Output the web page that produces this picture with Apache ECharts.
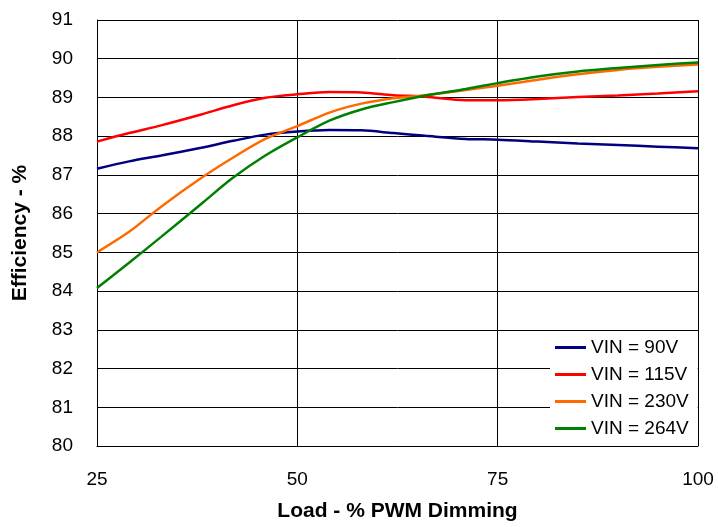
<!DOCTYPE html>
<html>
<head>
<meta charset="utf-8">
<script src="https://cdn.jsdelivr.net/npm/echarts@6/dist/echarts.min.js"></script>
<style>
  html, body { margin: 0; padding: 0; background: #fff; }
  #chart { width: 718px; height: 527px; }
</style>
</head>
<body>
<div id="chart"></div>
<script>
// load points (% PWM dimming), shared by all curves
const loadX = [25, 29, 33, 38, 42, 46, 50, 54, 58, 62, 66, 71, 75, 80, 85, 90, 95, 100];

// efficiency (%)
const vin90 = [87.16, 87.35, 87.50, 87.70, 87.88, 88.04, 88.12, 88.16, 88.15, 88.08, 88.01, 87.93, 87.91, 87.86, 87.81, 87.77, 87.73, 87.69];
const vin115 = [87.86, 88.08, 88.28, 88.56, 88.80, 88.99, 89.08, 89.14, 89.13, 89.06, 89.02, 88.93, 88.93, 88.96, 89.01, 89.05, 89.10, 89.16];
const vin230 = [85.00, 85.53, 86.18, 86.92, 87.45, 87.93, 88.26, 88.61, 88.84, 88.98, 89.06, 89.19, 89.30, 89.46, 89.60, 89.71, 89.79, 89.85];
const vin264 = [84.08, 84.73, 85.40, 86.25, 86.93, 87.50, 87.97, 88.40, 88.69, 88.88, 89.05, 89.22, 89.37, 89.54, 89.67, 89.76, 89.84, 89.90];

const seriesNames = ['VIN = 90V', 'VIN = 115V', 'VIN = 230V', 'VIN = 264V'];
const seriesColors = ['#000080', '#ff0000', '#ff6a00', '#008000'];
const seriesValues = [vin90, vin115, vin230, vin264];

const chart = echarts.init(document.getElementById('chart'));

const font = 'Liberation Sans, Arial, sans-serif';

const option = {
  animation: false,
  grid: { left: 97, right: 20, top: 20, bottom: 78 },
  xAxis: {
    type: 'value',
    min: 25,
    max: 100,
    interval: 25,
    name: 'Load - % PWM Dimming',
    nameLocation: 'middle',
    nameGap: 55,
    nameTextStyle: { fontFamily: font, fontSize: 21, fontWeight: 'bold', color: '#000' },
    axisLine: { show: true, lineStyle: { color: '#000', width: 1 } },
    axisTick: { show: false },
    axisLabel: { fontFamily: font, fontSize: 19, color: '#000', margin: 24 },
    splitLine: { show: true, lineStyle: { color: '#000', width: 1 } }
  },
  yAxis: {
    type: 'value',
    min: 80,
    max: 91,
    interval: 1,
    name: 'Efficiency - %',
    nameLocation: 'middle',
    nameGap: 66,
    nameTextStyle: { fontFamily: font, fontSize: 21, fontWeight: 'bold', color: '#000' },
    axisLine: { show: true, lineStyle: { color: '#000', width: 1 } },
    axisTick: { show: false },
    axisLabel: { fontFamily: font, fontSize: 19, color: '#000', margin: 24 },
    splitLine: { show: true, lineStyle: { color: '#000', width: 1 } }
  },
  legend: {
    orient: 'vertical',
    left: 550,
    top: 334,
    padding: [0, 9, 2, 5],
    backgroundColor: '#fff',
    icon: 'rect',
    itemWidth: 31,
    itemHeight: 3,
    itemGap: 0,
    data: seriesNames,
    textStyle: { fontFamily: font, fontSize: 19, lineHeight: 27, color: '#000' }
  },
  series: seriesNames.map((name, i) => ({
    name: name,
    type: 'line',
    smooth: 0.3,
    symbol: 'none',
    color: seriesColors[i],
    lineStyle: { color: seriesColors[i], width: 2.5 },
    data: loadX.map((x, j) => [x, seriesValues[i][j]])
  }))
};

chart.setOption(option);
</script>
</body>
</html>
